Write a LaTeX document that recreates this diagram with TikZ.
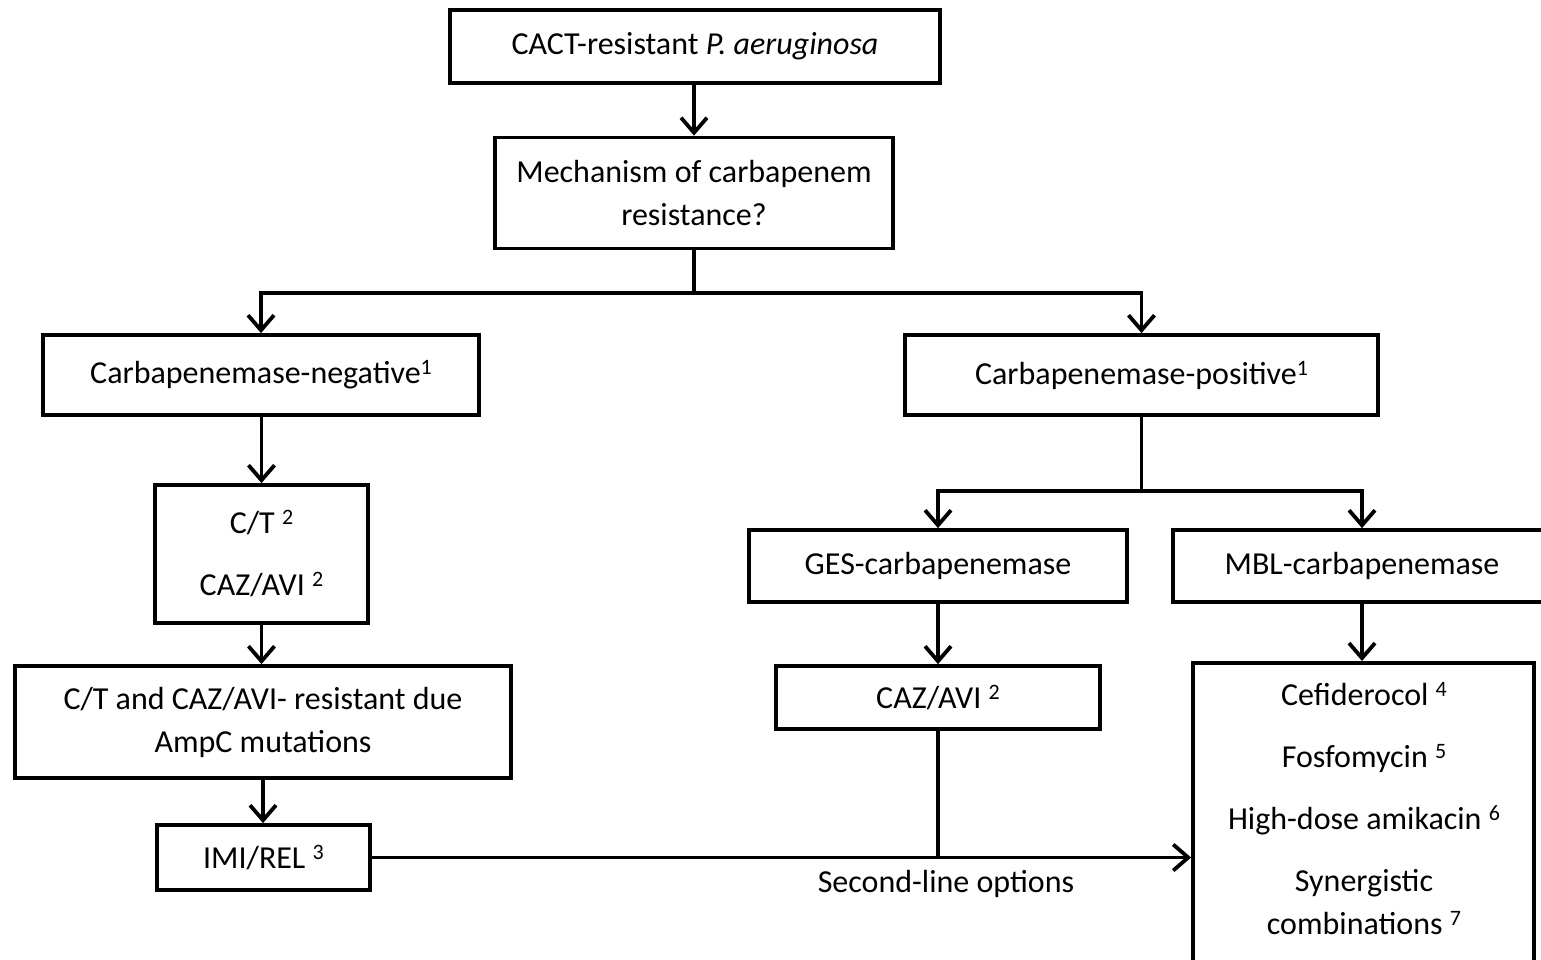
\documentclass[tikz,border=0pt]{standalone}
\usepackage{fontspec}
\setmainfont{Carlito}
\usetikzlibrary{arrows.meta}
\newcommand{\fnote}[1]{\raisebox{9pt}{\fontsize{22}{22}\selectfont #1}}
\tikzset{
  txt/.style={align=center, inner sep=0pt, font=\fontsize{32}{43}\selectfont},
  box/.style={txt, draw, line width=3.8pt},
  link/.style={line width=3.8pt},
  >={Straight Barb[length=15pt,width=26pt]}
}
\begin{document}
\begin{tikzpicture}[x=1pt,y=-1pt]
\useasboundingbox (0,0) rectangle (1541,959);
\clip (0,0) rectangle (1541,959);
% top of the chart
\node[box, minimum width=490, minimum height=73] (start) at (695,46.5) {CACT-resistant \textit{P. aeruginosa}};
\node[box, minimum width=398, minimum height=111] (mech) at (694,193) {Mechanism of carbapenem\\resistance?};
\node[box, minimum width=436, minimum height=80] (neg) at (261,375) {Carbapenemase-negative\fnote{1}};
\node[box, minimum width=473, minimum height=80] (pos) at (1141.5,375) {Carbapenemase-positive\fnote{1}};
% left branch
\node[box, minimum width=213, minimum height=138] (ctcaz) at (261.5,554) {C/T \fnote{2}\\[19pt]CAZ/AVI \fnote{2}};
\node[box, minimum width=496, minimum height=112] (ampc) at (263,722) {C/T and CAZ/AVI- resistant due\\AmpC mutations};
\node[box, minimum width=213, minimum height=65] (imirel) at (263.5,857.5) {IMI/REL \fnote{3}};
% right branch
\node[box, minimum width=378, minimum height=72] (ges) at (938,566) {GES-carbapenemase};
\node[box, minimum width=378, minimum height=72] (mbl) at (1362,566) {MBL-carbapenemase};
\node[box, minimum width=324, minimum height=63] (cazavi) at (938,697.5) {CAZ/AVI \fnote{2}};
\node[box, minimum width=341, minimum height=340, anchor=north] (options) at (1363.5,661) {};
\node[txt, anchor=north] (optlist) at (1364,682) {Cefiderocol \fnote{4}\\[19pt]Fosfomycin \fnote{5}\\[19pt]High-dose amikacin \fnote{6}\\[19pt]Synergistic\\combinations \fnote{7}};
% connectors
\coordinate (split1) at (694,293);
\coordinate (split2) at (1141.5,491);
\draw[link, ->] (start.south -| mech.north) -- (mech.north);
\draw[link] (mech.south) -- (split1);
\draw[link, ->] (split1) -| (neg.north);
\draw[link, ->] (split1) -| (pos.north);
\draw[link, ->] (neg.south) -- (neg.south -| ctcaz.north) -- (ctcaz.north);
\draw[link, ->] (ctcaz.south) -- (ctcaz.south |- ampc.north);
\draw[link, ->] (ampc.south) -- (ampc.south |- imirel.north);
\draw[link] (pos.south) -- (split2);
\draw[link, ->] (split2) -| (ges.north);
\draw[link, ->] (split2) -| (mbl.north);
\draw[link, ->] (ges.south) -- (cazavi.north);
\draw[link, ->] (mbl.south) -- (mbl.south |- options.north);
\draw[link] (cazavi.south) -- (cazavi.south |- imirel.east);
\draw[link, ->] (imirel.east) -- (imirel.east -| options.west);
\node[txt] (second) at (946,884) {Second-line options};
\end{tikzpicture}
\end{document}
